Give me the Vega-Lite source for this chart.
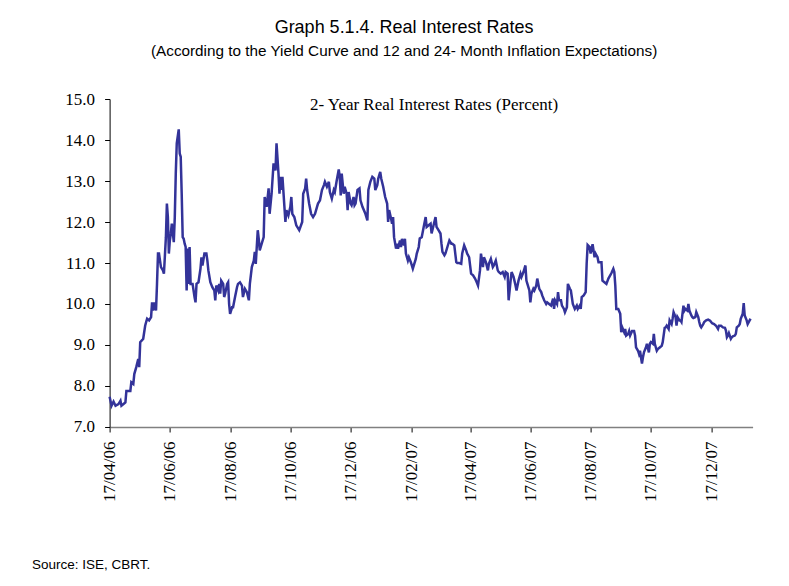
{
  "$schema": "https://vega.github.io/schema/vega-lite/v6.json",
  "width": 643,
  "height": 328,
  "autosize": {"type": "none"},
  "padding": {"left": 109.6, "top": 99, "right": 36, "bottom": 159},
  "background": "white",
  "title": {
    "text": "Graph 5.1.4. Real Interest Rates",
    "subtitle": "(According to the Yield Curve and 12 and 24- Month Inflation Expectations)",
    "font": "Liberation Sans Narrow, Liberation Sans, sans-serif",
    "subtitleFont": "Liberation Sans Narrow, Liberation Sans, sans-serif",
    "fontSize": 18,
    "subtitleFontSize": 15.3,
    "fontWeight": "normal",
    "subtitleFontWeight": "normal",
    "color": "#000000",
    "subtitleColor": "#000000",
    "anchor": "middle",
    "frame": "group",
    "dx": -27,
    "offset": 31,
    "subtitlePadding": 7
  },
  "data": {"values": [
    {"d":"2006-04-17","v":7.74},{"d":"2006-04-19","v":7.52},{"d":"2006-04-21","v":7.62},{"d":"2006-04-23","v":7.52},{"d":"2006-04-26","v":7.56},{"d":"2006-04-28","v":7.64},{"d":"2006-04-29","v":7.52},{"d":"2006-05-02","v":7.58},{"d":"2006-05-03","v":7.60},{"d":"2006-05-04","v":7.88},{"d":"2006-05-08","v":7.88},{"d":"2006-05-09","v":8.09},{"d":"2006-05-11","v":8.05},{"d":"2006-05-12","v":8.29},{"d":"2006-05-14","v":8.46},{"d":"2006-05-16","v":8.66},{"d":"2006-05-17","v":8.46},{"d":"2006-05-18","v":9.07},{"d":"2006-05-21","v":9.15},{"d":"2006-05-23","v":9.47},{"d":"2006-05-24","v":9.56},{"d":"2006-05-25","v":9.64},{"d":"2006-05-27","v":9.60},{"d":"2006-05-29","v":9.68},{"d":"2006-05-30","v":10.04},{"d":"2006-05-31","v":9.84},{"d":"2006-06-01","v":10.04},{"d":"2006-06-03","v":9.84},{"d":"2006-06-04","v":10.49},{"d":"2006-06-05","v":11.23},{"d":"2006-06-06","v":11.23},{"d":"2006-06-08","v":10.90},{"d":"2006-06-10","v":10.82},{"d":"2006-06-11","v":10.74},{"d":"2006-06-13","v":11.63},{"d":"2006-06-14","v":12.45},{"d":"2006-06-15","v":12.12},{"d":"2006-06-16","v":11.23},{"d":"2006-06-17","v":11.55},{"d":"2006-06-18","v":11.72},{"d":"2006-06-19","v":11.96},{"d":"2006-06-21","v":11.51},{"d":"2006-06-22","v":12.12},{"d":"2006-06-23","v":13.18},{"d":"2006-06-24","v":13.92},{"d":"2006-06-26","v":14.26},{"d":"2006-06-27","v":13.67},{"d":"2006-06-28","v":13.59},{"d":"2006-06-29","v":12.69},{"d":"2006-06-30","v":11.63},{"d":"2006-07-01","v":11.59},{"d":"2006-07-02","v":11.47},{"d":"2006-07-03","v":11.39},{"d":"2006-07-04","v":10.33},{"d":"2006-07-05","v":11.35},{"d":"2006-07-06","v":10.49},{"d":"2006-07-07","v":11.39},{"d":"2006-07-08","v":10.49},{"d":"2006-07-10","v":10.49},{"d":"2006-07-12","v":10.17},{"d":"2006-07-13","v":10.04},{"d":"2006-07-14","v":10.49},{"d":"2006-07-16","v":10.53},{"d":"2006-07-18","v":10.86},{"d":"2006-07-19","v":11.14},{"d":"2006-07-20","v":10.94},{"d":"2006-07-22","v":11.23},{"d":"2006-07-24","v":11.23},{"d":"2006-07-25","v":11.06},{"d":"2006-07-26","v":10.82},{"d":"2006-07-28","v":10.53},{"d":"2006-07-30","v":10.41},{"d":"2006-07-31","v":10.37},{"d":"2006-08-01","v":10.33},{"d":"2006-08-02","v":10.09},{"d":"2006-08-03","v":10.45},{"d":"2006-08-05","v":10.33},{"d":"2006-08-06","v":10.49},{"d":"2006-08-07","v":10.25},{"d":"2006-08-08","v":10.57},{"d":"2006-08-10","v":10.49},{"d":"2006-08-11","v":10.17},{"d":"2006-08-12","v":10.25},{"d":"2006-08-14","v":10.49},{"d":"2006-08-15","v":10.53},{"d":"2006-08-16","v":10.00},{"d":"2006-08-17","v":9.76},{"d":"2006-08-19","v":9.92},{"d":"2006-08-20","v":9.92},{"d":"2006-08-22","v":10.17},{"d":"2006-08-24","v":10.41},{"d":"2006-08-25","v":10.49},{"d":"2006-08-27","v":10.53},{"d":"2006-08-29","v":10.45},{"d":"2006-08-30","v":10.17},{"d":"2006-09-01","v":10.37},{"d":"2006-09-03","v":10.29},{"d":"2006-09-05","v":10.09},{"d":"2006-09-06","v":10.49},{"d":"2006-09-08","v":10.90},{"d":"2006-09-10","v":11.06},{"d":"2006-09-11","v":11.27},{"d":"2006-09-12","v":10.98},{"d":"2006-09-14","v":11.80},{"d":"2006-09-15","v":11.59},{"d":"2006-09-16","v":11.31},
    {"d":"2006-09-18","v":11.47},{"d":"2006-09-20","v":11.63},{"d":"2006-09-21","v":12.61},{"d":"2006-09-23","v":12.37},{"d":"2006-09-25","v":12.82},{"d":"2006-09-26","v":12.20},{"d":"2006-09-28","v":12.69},{"d":"2006-09-30","v":13.43},{"d":"2006-10-02","v":13.26},{"d":"2006-10-03","v":13.92},{"d":"2006-10-05","v":13.18},{"d":"2006-10-06","v":12.69},{"d":"2006-10-07","v":13.10},{"d":"2006-10-08","v":12.78},{"d":"2006-10-09","v":13.10},{"d":"2006-10-11","v":12.37},{"d":"2006-10-12","v":12.00},{"d":"2006-10-13","v":12.29},{"d":"2006-10-15","v":12.16},{"d":"2006-10-17","v":12.37},{"d":"2006-10-18","v":12.61},{"d":"2006-10-19","v":12.20},{"d":"2006-10-21","v":12.12},{"d":"2006-10-23","v":11.92},{"d":"2006-10-26","v":11.80},{"d":"2006-10-29","v":12.00},{"d":"2006-10-30","v":12.69},{"d":"2006-11-01","v":12.82},{"d":"2006-11-02","v":13.06},{"d":"2006-11-03","v":12.78},{"d":"2006-11-05","v":12.45},{"d":"2006-11-07","v":12.20},{"d":"2006-11-09","v":12.12},{"d":"2006-11-11","v":12.20},{"d":"2006-11-13","v":12.37},{"d":"2006-11-14","v":12.45},{"d":"2006-11-16","v":12.53},{"d":"2006-11-18","v":12.78},{"d":"2006-11-20","v":12.90},{"d":"2006-11-21","v":12.98},{"d":"2006-11-23","v":12.86},{"d":"2006-11-25","v":12.98},{"d":"2006-11-26","v":12.73},{"d":"2006-11-28","v":12.57},{"d":"2006-11-30","v":12.78},{"d":"2006-12-01","v":12.73},{"d":"2006-12-03","v":13.02},{"d":"2006-12-05","v":13.28},{"d":"2006-12-06","v":13.10},{"d":"2006-12-07","v":12.65},{"d":"2006-12-08","v":13.18},{"d":"2006-12-10","v":12.69},{"d":"2006-12-11","v":12.86},{"d":"2006-12-13","v":12.69},{"d":"2006-12-14","v":12.29},{"d":"2006-12-15","v":12.73},{"d":"2006-12-17","v":12.45},{"d":"2006-12-18","v":12.41},{"d":"2006-12-20","v":12.61},{"d":"2006-12-21","v":12.41},{"d":"2006-12-22","v":12.45},{"d":"2006-12-24","v":12.78},{"d":"2006-12-26","v":12.82},{"d":"2006-12-27","v":12.53},{"d":"2006-12-29","v":12.37},{"d":"2007-01-01","v":12.20},{"d":"2007-01-03","v":12.04},{"d":"2007-01-04","v":12.78},{"d":"2007-01-06","v":12.98},{"d":"2007-01-08","v":13.10},{"d":"2007-01-10","v":13.06},{"d":"2007-01-11","v":12.78},{"d":"2007-01-13","v":12.90},{"d":"2007-01-14","v":13.06},{"d":"2007-01-16","v":13.22},{"d":"2007-01-17","v":13.06},{"d":"2007-01-19","v":12.86},{"d":"2007-01-21","v":12.61},{"d":"2007-01-23","v":12.45},{"d":"2007-01-24","v":12.00},{"d":"2007-01-25","v":12.29},{"d":"2007-01-27","v":12.08},{"d":"2007-01-28","v":11.96},{"d":"2007-01-29","v":12.12},{"d":"2007-01-30","v":11.63},{"d":"2007-02-01","v":11.35},{"d":"2007-02-02","v":11.47},{"d":"2007-02-03","v":11.35},{"d":"2007-02-05","v":11.55},{"d":"2007-02-06","v":11.39},{"d":"2007-02-07","v":11.59},{"d":"2007-02-09","v":11.43},{"d":"2007-02-10","v":11.59},{"d":"2007-02-11","v":11.23},{"d":"2007-02-13","v":11.06},{"d":"2007-02-14","v":11.14},{"d":"2007-02-16","v":11.02},{"d":"2007-02-18","v":10.86},{"d":"2007-02-19","v":10.94},{"d":"2007-02-21","v":11.10},{"d":"2007-02-22","v":11.23},{"d":"2007-02-24","v":11.39},{"d":"2007-02-25","v":11.60},
    {"d":"2007-02-27","v":11.63},{"d":"2007-03-01","v":11.88},{"d":"2007-03-03","v":12.12},{"d":"2007-03-04","v":11.88},{"d":"2007-03-06","v":11.92},{"d":"2007-03-08","v":11.96},{"d":"2007-03-09","v":11.72},{"d":"2007-03-11","v":11.92},{"d":"2007-03-13","v":12.12},{"d":"2007-03-14","v":11.88},{"d":"2007-03-16","v":11.80},{"d":"2007-03-18","v":11.72},{"d":"2007-03-19","v":11.47},{"d":"2007-03-20","v":11.27},{"d":"2007-03-22","v":11.19},{"d":"2007-03-23","v":11.23},{"d":"2007-03-25","v":11.39},{"d":"2007-03-27","v":11.55},{"d":"2007-03-29","v":11.47},{"d":"2007-03-30","v":11.47},{"d":"2007-04-01","v":11.43},{"d":"2007-04-03","v":11.02},{"d":"2007-04-04","v":11.00},{"d":"2007-04-06","v":11.00},{"d":"2007-04-08","v":10.98},{"d":"2007-04-09","v":11.23},{"d":"2007-04-11","v":11.43},{"d":"2007-04-13","v":11.31},{"d":"2007-04-14","v":11.23},{"d":"2007-04-16","v":11.14},{"d":"2007-04-18","v":10.74},{"d":"2007-04-20","v":10.70},{"d":"2007-04-22","v":10.62},{"d":"2007-04-23","v":10.57},{"d":"2007-04-25","v":10.45},{"d":"2007-04-27","v":10.82},{"d":"2007-04-28","v":11.23},{"d":"2007-04-30","v":10.90},{"d":"2007-05-01","v":11.14},{"d":"2007-05-03","v":11.02},{"d":"2007-05-05","v":10.82},{"d":"2007-05-06","v":10.98},{"d":"2007-05-08","v":11.10},{"d":"2007-05-10","v":10.90},{"d":"2007-05-11","v":10.94},{"d":"2007-05-13","v":11.06},{"d":"2007-05-15","v":10.82},{"d":"2007-05-16","v":10.78},{"d":"2007-05-18","v":10.74},{"d":"2007-05-20","v":10.78},{"d":"2007-05-22","v":10.66},{"d":"2007-05-23","v":10.78},{"d":"2007-05-25","v":10.74},{"d":"2007-05-26","v":10.09},{"d":"2007-05-28","v":10.57},{"d":"2007-05-29","v":10.78},{"d":"2007-05-31","v":10.66},{"d":"2007-06-02","v":10.45},{"d":"2007-06-03","v":10.33},{"d":"2007-06-05","v":10.57},{"d":"2007-06-07","v":10.74},{"d":"2007-06-08","v":10.66},{"d":"2007-06-10","v":10.78},{"d":"2007-06-12","v":10.94},{"d":"2007-06-13","v":10.57},{"d":"2007-06-14","v":10.49},{"d":"2007-06-16","v":10.33},{"d":"2007-06-17","v":10.04},{"d":"2007-06-18","v":10.25},{"d":"2007-06-20","v":10.37},{"d":"2007-06-21","v":10.33},{"d":"2007-06-23","v":10.45},{"d":"2007-06-24","v":10.62},{"d":"2007-06-26","v":10.37},{"d":"2007-06-28","v":10.29},{"d":"2007-06-29","v":10.21},{"d":"2007-07-01","v":10.09},{"d":"2007-07-03","v":10.00},{"d":"2007-07-04","v":10.04},{"d":"2007-07-06","v":10.00},{"d":"2007-07-08","v":9.96},{"d":"2007-07-10","v":10.13},{"d":"2007-07-11","v":9.88},{"d":"2007-07-12","v":10.09},{"d":"2007-07-14","v":10.00},{"d":"2007-07-15","v":10.29},{"d":"2007-07-16","v":10.09},{"d":"2007-07-18","v":10.09},{"d":"2007-07-19","v":9.96},{"d":"2007-07-21","v":9.88},{"d":"2007-07-22","v":9.80},{"d":"2007-07-24","v":9.92},{"d":"2007-07-25","v":10.49},{"d":"2007-07-27","v":10.37},{"d":"2007-07-28","v":10.33},{"d":"2007-07-30","v":10.00},{"d":"2007-08-01","v":9.88},{"d":"2007-08-03","v":9.96},{"d":"2007-08-04","v":9.88},{"d":"2007-08-06","v":9.96},{"d":"2007-08-07","v":9.88},{"d":"2007-08-08","v":10.17},{"d":"2007-08-10","v":10.21},{"d":"2007-08-12","v":10.29},{"d":"2007-08-13","v":10.98},{"d":"2007-08-14","v":11.44},
    {"d":"2007-08-16","v":11.39},{"d":"2007-08-17","v":11.23},{"d":"2007-08-19","v":11.46},{"d":"2007-08-21","v":11.14},{"d":"2007-08-22","v":11.23},{"d":"2007-08-24","v":11.14},{"d":"2007-08-25","v":11.02},{"d":"2007-08-28","v":11.02},{"d":"2007-08-29","v":10.57},{"d":"2007-08-31","v":10.53},{"d":"2007-09-02","v":10.49},{"d":"2007-09-04","v":10.62},{"d":"2007-09-07","v":10.75},{"d":"2007-09-09","v":10.86},{"d":"2007-09-10","v":10.78},{"d":"2007-09-11","v":10.45},{"d":"2007-09-12","v":9.88},{"d":"2007-09-14","v":9.88},{"d":"2007-09-16","v":9.76},{"d":"2007-09-17","v":9.31},{"d":"2007-09-18","v":9.43},{"d":"2007-09-20","v":9.31},{"d":"2007-09-21","v":9.39},{"d":"2007-09-22","v":9.23},{"d":"2007-09-24","v":9.27},{"d":"2007-09-25","v":9.34},{"d":"2007-09-26","v":9.23},{"d":"2007-09-28","v":9.34},{"d":"2007-09-30","v":9.34},{"d":"2007-10-01","v":9.23},{"d":"2007-10-02","v":8.94},{"d":"2007-10-04","v":8.86},{"d":"2007-10-05","v":8.78},{"d":"2007-10-06","v":8.86},{"d":"2007-10-08","v":8.55},{"d":"2007-10-09","v":8.70},{"d":"2007-10-10","v":8.82},{"d":"2007-10-12","v":8.94},{"d":"2007-10-13","v":9.03},{"d":"2007-10-15","v":8.82},{"d":"2007-10-16","v":9.03},{"d":"2007-10-17","v":9.07},{"d":"2007-10-19","v":9.03},{"d":"2007-10-20","v":9.27},{"d":"2007-10-21","v":9.03},{"d":"2007-10-23","v":8.86},{"d":"2007-10-24","v":8.90},{"d":"2007-10-26","v":8.94},{"d":"2007-10-28","v":8.98},{"d":"2007-10-29","v":9.07},{"d":"2007-10-31","v":9.42},{"d":"2007-11-01","v":9.43},{"d":"2007-11-02","v":9.47},{"d":"2007-11-04","v":9.39},{"d":"2007-11-05","v":9.60},{"d":"2007-11-07","v":9.51},{"d":"2007-11-08","v":9.64},{"d":"2007-11-09","v":9.80},{"d":"2007-11-11","v":9.68},{"d":"2007-11-12","v":9.47},{"d":"2007-11-13","v":9.68},{"d":"2007-11-15","v":9.60},{"d":"2007-11-16","v":9.60},{"d":"2007-11-17","v":9.56},{"d":"2007-11-19","v":9.96},{"d":"2007-11-20","v":9.84},{"d":"2007-11-21","v":9.88},{"d":"2007-11-23","v":9.84},{"d":"2007-11-24","v":10.00},{"d":"2007-11-25","v":9.84},{"d":"2007-11-27","v":9.72},{"d":"2007-11-28","v":9.68},{"d":"2007-11-29","v":9.66},{"d":"2007-12-01","v":9.68},{"d":"2007-12-02","v":9.80},{"d":"2007-12-04","v":9.68},{"d":"2007-12-05","v":9.56},{"d":"2007-12-06","v":9.47},{"d":"2007-12-07","v":9.43},{"d":"2007-12-09","v":9.51},{"d":"2007-12-10","v":9.56},{"d":"2007-12-12","v":9.60},{"d":"2007-12-14","v":9.62},{"d":"2007-12-16","v":9.59},{"d":"2007-12-18","v":9.53},{"d":"2007-12-20","v":9.51},{"d":"2007-12-22","v":9.47},{"d":"2007-12-24","v":9.39},{"d":"2007-12-25","v":9.47},{"d":"2007-12-27","v":9.47},{"d":"2007-12-29","v":9.43},{"d":"2007-12-31","v":9.42},{"d":"2008-01-01","v":9.35},{"d":"2008-01-02","v":9.19},{"d":"2008-01-03","v":9.23},{"d":"2008-01-04","v":9.29},{"d":"2008-01-06","v":9.15},{"d":"2008-01-07","v":9.19},{"d":"2008-01-08","v":9.21},{"d":"2008-01-10","v":9.23},{"d":"2008-01-11","v":9.27},{"d":"2008-01-12","v":9.43},{"d":"2008-01-14","v":9.47},{"d":"2008-01-15","v":9.51},{"d":"2008-01-16","v":9.64},{"d":"2008-01-18","v":9.76},{"d":"2008-01-19","v":10.02},{"d":"2008-01-20","v":9.72},{"d":"2008-01-22","v":9.60},{"d":"2008-01-23","v":9.51},{"d":"2008-01-25","v":9.60},{"d":"2008-01-26","v":9.64}
  ]},
  "mark": {"type": "line", "color": "#333399", "strokeWidth": 2.5, "interpolate": "linear"},
  "encoding": {
    "x": {
      "field": "d",
      "type": "temporal",
      "scale": {"domain": [{"year": 2006, "month": 4, "date": 17}, {"year": 2008, "month": 1, "date": 28}]},
      "axis": {
        "values": [
          {"year": 2006, "month": 4, "date": 17},
          {"year": 2006, "month": 6, "date": 17},
          {"year": 2006, "month": 8, "date": 17},
          {"year": 2006, "month": 10, "date": 17},
          {"year": 2006, "month": 12, "date": 17},
          {"year": 2007, "month": 2, "date": 17},
          {"year": 2007, "month": 4, "date": 17},
          {"year": 2007, "month": 6, "date": 17},
          {"year": 2007, "month": 8, "date": 17},
          {"year": 2007, "month": 10, "date": 17},
          {"year": 2007, "month": 12, "date": 17}
        ],
        "format": "%d/%m/%y",
        "labelAngle": -90,
        "labelFont": "Liberation Serif",
        "labelFontSize": 17,
        "labelColor": "#000000",
        "labelPadding": 9,
        "labelFlush": false,
        "labelOverlap": false,
        "tickSize": 5,
        "tickColor": "#000000",
        "domainColor": "#808080",
        "domainWidth": 1.5,
        "grid": false,
        "title": "Source: ISE, CBRT.",
        "titleFont": "Liberation Sans Narrow, Liberation Sans, sans-serif",
        "titleFontSize": 13.5,
        "titleFontWeight": "normal",
        "titleColor": "#000000",
        "titleAngle": 0,
        "titleX": -78,
        "titleY": 142,
        "titleAlign": "left",
        "titleBaseline": "alphabetic"
      }
    },
    "y": {
      "field": "v",
      "type": "quantitative",
      "scale": {"domain": [7, 15], "nice": false, "zero": false},
      "axis": {
        "values": [7, 8, 9, 10, 11, 12, 13, 14, 15],
        "format": ".1f",
        "labelFont": "Liberation Serif",
        "labelFontSize": 17,
        "labelColor": "#000000",
        "labelPadding": 10,
        "labelFlush": false,
        "tickSize": 5,
        "tickColor": "#000000",
        "domainColor": "#000000",
        "domainWidth": 1,
        "grid": false,
        "title": "2- Year Real Interest Rates (Percent)",
        "titleFont": "Liberation Serif",
        "titleFontSize": 17,
        "titleFontWeight": "normal",
        "titleColor": "#000000",
        "titleAngle": 0,
        "titleX": 324,
        "titleY": 10,
        "titleAlign": "center",
        "titleBaseline": "alphabetic"
      }
    }
  },
  "config": {"view": {"stroke": null}}
}
